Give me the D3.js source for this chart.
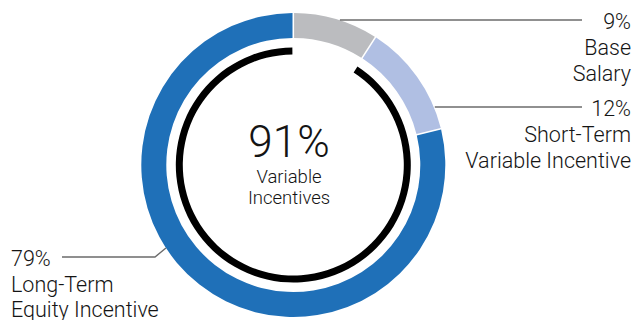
<!DOCTYPE html>
<html>
<head>
<meta charset="utf-8">
<script src="https://cdn.jsdelivr.net/npm/d3@7/dist/d3.min.js"></script>
<style>
  html, body { margin: 0; padding: 0; background: #fff; }
  svg { display: block; }
  text { font-family: Roboto, "Noto Sans", sans-serif; fill: #141414; }
</style>
</head>
<body>
<svg id="chart" width="632" height="320"></svg>
<script>
// Pay mix components (percent of total target compensation)
const categories = ["Base Salary", "Short-Term Variable Incentive", "Long-Term Equity Incentive"];
const values = [9, 12, 79];
const colors = ["#bbbcbf", "#b0bfe3", "#1f70b8"];
// Label lines under each percentage
const labelLines = [["Base", "Salary"], ["Short-Term", "Variable Incentive"], ["Long-Term", "Equity Incentive"]];
const centerCaption = ["Variable", "Incentives"];
// Which components count as variable pay
const isVariable = [false, true, true];

const svg = d3.select("#chart");
const cx = 293.3, cy = 165;
const rOuter = 152, rInner = 127;
const rBlack = 114, blackWidth = 7;

const total = d3.sum(values);
const variableTotal = d3.sum(values.filter((v, i) => isVariable[i]));

const pie = d3.pie().sort(null).value(d => d).padAngle(0.008);
const arcs = pie(values);
const arc = d3.arc().innerRadius(rInner).outerRadius(rOuter);

const g = svg.append("g").attr("transform", `translate(${cx},${cy})`);

g.selectAll("path.seg")
  .data(arcs)
  .join("path")
  .attr("class", "seg")
  .attr("d", arc)
  .attr("fill", (d, i) => colors[i]);

// Inner black arc spanning the variable portion
const angle = d3.scaleLinear().domain([0, total]).range([0, 2 * Math.PI]);
const varStart = angle(total - variableTotal) + 0.012;
const varEnd = 2 * Math.PI - 0.008;
g.append("path")
  .attr("d", d3.arc()
    .innerRadius(rBlack - blackWidth / 2)
    .outerRadius(rBlack + blackWidth / 2)
    .startAngle(varStart)
    .endAngle(varEnd)())
  .attr("fill", "#000");

// Center summary
const fmt = v => `${v}%`;
const center = svg.append("g").attr("transform", `translate(289,0)`);
center.append("text").attr("x", 0).attr("y", 157)
  .attr("text-anchor", "middle").attr("font-size", 44).attr("font-weight", 300)
  .text(fmt(variableTotal));
center.selectAll("text.cap")
  .data(centerCaption)
  .join("text")
  .attr("class", "cap")
  .attr("x", 0).attr("y", (d, i) => 183 + i * 21)
  .attr("text-anchor", "middle").attr("font-size", 18.5).attr("font-weight", 300)
  .text(d => d);

// Leader lines and labels
const xOnRing = y => Math.sqrt(rOuter * rOuter - (y - cy) * (y - cy));
const lineColor = "#6b6b6b";
const labelSpecs = [
  { side: "right", lineY: 20, lineEnd: 582, textX: 631, base: 28.5, step: 26 },
  { side: "right", lineY: 107, lineEnd: 582, textX: 631, base: 115.5, step: 26 },
  { side: "left", lineY: 257, lineEnd: 62, kneeX: 155, hitY: 248, textX: 11, base: 266, step: 25.5 }
];

labelSpecs.forEach((s, i) => {
  let pts;
  if (s.side === "right") {
    pts = [[cx + xOnRing(s.lineY) + 1, s.lineY], [s.lineEnd, s.lineY]];
  } else {
    pts = [[cx - xOnRing(s.hitY), s.hitY], [s.kneeX, s.lineY], [s.lineEnd, s.lineY]];
  }
  svg.append("path")
    .attr("d", d3.line()(pts))
    .attr("fill", "none")
    .attr("stroke", lineColor)
    .attr("stroke-width", 1.4);

  const anchor = s.side === "right" ? "end" : "start";
  const lines = [fmt(values[i])].concat(labelLines[i]);
  svg.append("g").selectAll("text")
    .data(lines)
    .join("text")
    .attr("x", s.textX)
    .attr("y", (d, k) => s.base + k * s.step)
    .attr("text-anchor", anchor)
    .attr("font-size", 21.5)
    .attr("font-weight", 300)
    .text(d => d);
});
</script>
</body>
</html>
